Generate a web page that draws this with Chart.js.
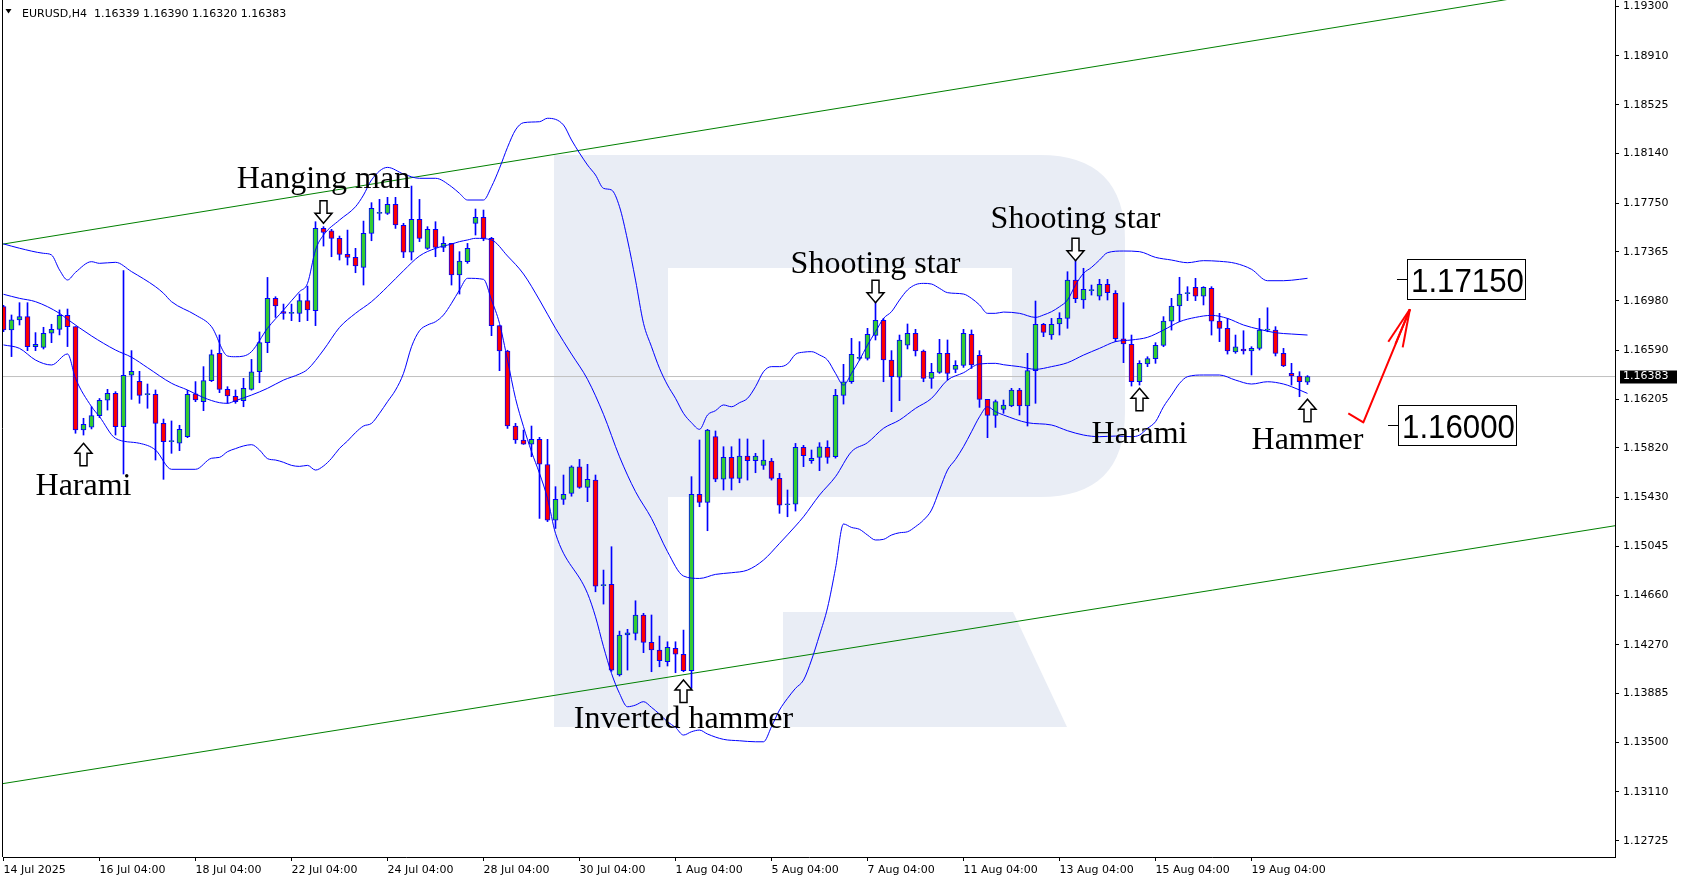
<!DOCTYPE html>
<html>
<head>
<meta charset="utf-8">
<title>EURUSD H4</title>
<script src="https://cdn.jsdelivr.net/npm/chart.js@4.4.1/dist/chart.umd.min.js"></script>
<style>
  html, body { margin: 0; padding: 0; background: #fff; }
  canvas { display: block; }
</style>
</head>
<body>
<canvas id="chart" width="1681" height="882"></canvas>
<script>
// EURUSD H4 bars, 14 Jul 04:00 -> 20 Aug 2025
var opens = [1.16934,1.16750,1.16829,1.16855,1.16619,1.16613,1.16724,1.16755,1.16866,1.16776,
  1.15962,1.15983,1.16075,1.16196,1.16251,1.15988,1.16393,1.16345,1.16240,1.16243,
  1.16014,1.15870,1.15857,1.15909,1.16246,1.16185,1.16351,1.16566,1.16282,1.16227,
  1.16193,1.16282,1.16421,1.16650,1.16999,1.16894,1.16881,1.16881,1.16981,1.16902,
  1.17551,1.17532,1.17472,1.17346,1.17322,1.17243,1.17511,1.17669,1.17669,1.17740,
  1.17574,1.17362,1.17622,1.17393,1.17543,1.17401,1.17432,1.17183,1.17288,1.17590,
  1.17637,1.17472,1.16784,1.16584,1.15993,1.15883,1.15851,1.15888,1.15690,1.15252,
  1.15415,1.15462,1.15672,1.15510,1.15567,1.14735,1.14745,1.14031,1.14346,1.14359,
  1.14504,1.14288,1.14228,1.14136,1.14241,1.14194,1.14065,1.15455,1.15391,1.15909,
  1.15575,1.15746,1.15581,1.15757,1.15720,1.15683,1.15717,1.15581,1.15373,1.15378,
  1.15825,1.15720,1.15746,1.15825,1.15751,1.16235,1.16342,1.16526,1.16526,1.16707,
  1.16826,1.16513,1.16377,1.16631,1.16723,1.16584,1.16369,1.16416,1.16566,1.16440,
  1.16471,1.16715,1.16550,1.16203,1.16077,1.16124,1.16151,1.16277,1.16151,1.16429,
  1.16794,1.16710,1.16797,1.16841,1.17144,1.16986,1.17060,1.17017,1.17109,1.17038,
  1.16681,1.16637,1.16342,1.16482,1.16524,1.16629,1.16820,1.16939,1.17036,1.17086,
  1.17017,1.17078,1.16820,1.16763,1.16576,1.16600,1.16584,1.16605,1.16749,1.16749,
  1.16566,1.16408,1.16387,1.16339];
var highs = [1.16944,1.16868,1.16965,1.16965,1.16729,1.16771,1.16795,1.16908,1.16915,1.16776,
  1.16054,1.16146,1.16210,1.16282,1.16264,1.17218,1.16587,1.16424,1.16324,1.16277,
  1.16048,1.16033,1.15999,1.16274,1.16343,1.16461,1.16592,1.16711,1.16303,1.16277,
  1.16369,1.16518,1.16734,1.17164,1.17012,1.16954,1.16954,1.17033,1.17096,1.17603,
  1.17564,1.17543,1.17490,1.17537,1.17393,1.17608,1.17753,1.17779,1.17795,1.17795,
  1.17590,1.17884,1.17779,1.17564,1.17603,1.17485,1.17432,1.17367,1.17432,1.17703,
  1.17695,1.17480,1.16784,1.16590,1.16014,1.15961,1.15993,1.15904,1.15888,1.15515,
  1.15607,1.15680,1.15730,1.15691,1.15607,1.14858,1.15042,1.14377,1.14391,1.14616,
  1.14517,1.14504,1.14338,1.14293,1.14293,1.14385,1.15594,1.15883,1.15967,1.15954,
  1.15830,1.15830,1.15891,1.15891,1.15778,1.15883,1.15738,1.15620,1.15489,1.15856,
  1.15841,1.15804,1.15862,1.15877,1.16282,1.16479,1.16684,1.16658,1.16763,1.16973,
  1.16841,1.16587,1.16710,1.16797,1.16755,1.16592,1.16487,1.16676,1.16671,1.16508,
  1.16755,1.16750,1.16587,1.16203,1.16198,1.16198,1.16290,1.16290,1.16566,1.16978,
  1.16802,1.16841,1.16886,1.17209,1.17296,1.17236,1.17104,1.17149,1.17149,1.17060,
  1.16965,1.16710,1.16508,1.16539,1.16650,1.16855,1.16999,1.17165,1.17091,1.17157,
  1.17091,1.17091,1.16881,1.16841,1.16710,1.16744,1.16618,1.16841,1.16925,1.16776,
  1.16605,1.16487,1.16421,1.16390];
var lows = [1.16737,1.16540,1.16789,1.16587,1.16587,1.16600,1.16650,1.16711,1.16619,1.15936,
  1.15922,1.15970,1.16059,1.16119,1.15922,1.15615,1.16203,1.16172,1.16133,1.15725,
  1.15573,1.15778,1.15799,1.15901,1.16185,1.16114,1.16343,1.16256,1.16172,1.16172,
  1.16145,1.16276,1.16334,1.16571,1.16849,1.16834,1.16823,1.16815,1.16823,1.16784,
  1.17411,1.17327,1.17301,1.17262,1.17201,1.17104,1.17453,1.17616,1.17660,1.17550,
  1.17320,1.17301,1.17446,1.17385,1.17327,1.17367,1.17104,1.17033,1.17275,1.17498,
  1.17453,1.16705,1.16429,1.15974,1.15856,1.15848,1.15751,1.15265,1.15240,1.15186,
  1.15375,1.15440,1.15502,1.15397,1.14687,1.14590,1.14060,1.14023,1.14070,1.14307,
  1.14207,1.14057,1.14096,1.14102,1.14049,1.14057,1.13926,1.15357,1.15168,1.15554,
  1.15489,1.15489,1.15546,1.15567,1.15625,1.15651,1.15567,1.15305,1.15278,1.15323,
  1.15673,1.15699,1.15641,1.15699,1.15740,1.16166,1.16329,1.16513,1.16513,1.16671,
  1.16342,1.16106,1.16193,1.16600,1.16545,1.16342,1.16290,1.16408,1.16355,1.16413,
  1.16455,1.16447,1.16140,1.15901,1.15982,1.16093,1.16145,1.16080,1.15993,1.16172,
  1.16697,1.16676,1.16710,1.16763,1.16965,1.16920,1.17025,1.16986,1.16986,1.16658,
  1.16492,1.16308,1.16316,1.16461,1.16487,1.16618,1.16749,1.16815,1.16981,1.16981,
  1.16947,1.16710,1.16658,1.16560,1.16566,1.16560,1.16395,1.16592,1.16736,1.16545,
  1.16461,1.16316,1.16224,1.16320];
var closes = [1.16750,1.16829,1.16855,1.16619,1.16637,1.16724,1.16755,1.16866,1.16776,1.15962,
  1.16007,1.16075,1.16196,1.16251,1.15988,1.16393,1.16424,1.16235,1.16240,1.16014,
  1.15870,1.15870,1.15967,1.16243,1.16198,1.16351,1.16556,1.16282,1.16230,1.16185,
  1.16290,1.16421,1.16650,1.16999,1.16939,1.16881,1.16881,1.16981,1.16907,1.17551,
  1.17519,1.17472,1.17346,1.17322,1.17254,1.17511,1.17708,1.17669,1.17740,1.17577,
  1.17362,1.17622,1.17472,1.17543,1.17401,1.17432,1.17183,1.17293,1.17393,1.17637,
  1.17472,1.16784,1.16584,1.15993,1.15883,1.15851,1.15888,1.15693,1.15252,1.15415,
  1.15454,1.15672,1.15509,1.15573,1.14732,1.14735,1.14070,1.14346,1.14364,1.14504,
  1.14288,1.14228,1.14144,1.14249,1.14196,1.14065,1.15455,1.15391,1.15962,1.15575,
  1.15746,1.15581,1.15757,1.15720,1.15757,1.15725,1.15581,1.15370,1.15373,1.15825,
  1.15760,1.15738,1.15830,1.15746,1.16235,1.16342,1.16558,1.16532,1.16715,1.16826,
  1.16513,1.16382,1.16671,1.16723,1.16584,1.16369,1.16416,1.16566,1.16408,1.16471,
  1.16723,1.16474,1.16203,1.16077,1.16185,1.16158,1.16277,1.16151,1.16429,1.16794,
  1.16731,1.16794,1.16841,1.17144,1.16996,1.17070,1.17060,1.17109,1.17044,1.16681,
  1.16639,1.16342,1.16487,1.16524,1.16629,1.16820,1.16939,1.17033,1.17036,1.17017,
  1.17086,1.16820,1.16763,1.16584,1.16618,1.16584,1.16605,1.16749,1.16749,1.16566,
  1.16466,1.16387,1.16342,1.16383];

var xTickLabels = ['14 Jul 2025', '16 Jul 04:00', '18 Jul 04:00', '22 Jul 04:00', '24 Jul 04:00',
  '28 Jul 04:00', '30 Jul 04:00', '1 Aug 04:00', '5 Aug 04:00', '7 Aug 04:00', '11 Aug 04:00',
  '13 Aug 04:00', '15 Aug 04:00', '19 Aug 04:00'];
var xTickStep = 12;
var yTickValues = [1.19300, 1.18910, 1.18525, 1.18140, 1.17750, 1.17365, 1.16980, 1.16590, 1.16205,
  1.15820, 1.15430, 1.15045, 1.14660, 1.14270, 1.13885, 1.13500, 1.13110, 1.12725];
var lastPrice = 1.16383;

// Bollinger bands, [bar, price]
var upperBand = [[0,1.17428],[2,1.17394],[5,1.17354],[6,1.17341],[7,1.17223],[8,1.17144],[9,1.17204],
  [11,1.17288],[12,1.17275],[14,1.17283],[16,1.17210],[19,1.17091],[20,1.17039],[21,1.16973],[24,1.16868],
  [26,1.16776],[28,1.16545],[29,1.16539],[30,1.16544],[31,1.16579],[33,1.16763],[35,1.16907],[37,1.17052],
  [38,1.17117],[39,1.17380],[40,1.17498],[42,1.17616],[44,1.17721],[45,1.17813],[46,1.17932],[48,1.18031],
  [50,1.17979],[52,1.17945],[54,1.17945],[56,1.17879],[57,1.17826],[58,1.17774],[60,1.17774],[61,1.17879],
  [62,1.18024],[63,1.18189],[64,1.18326],[65,1.18383],[67,1.18391],[68,1.18418],[70,1.18365],[71,1.18247],
  [73,1.18050],[74,1.17971],[75,1.17866],[76,1.17853],[77,1.17721],[78,1.17459],[79,1.17143],[80,1.16802],
  [81,1.16618],[82,1.16448],[83,1.16316],[84,1.16211],[85,1.16093],[86,1.16019],[87,1.15967],[88,1.16080],
  [89,1.16114],[90,1.16159],[91,1.16145],[92,1.16177],[93,1.16211],[94,1.16303],[95,1.16421],[96,1.16461],
  [97,1.16461],[98,1.16482],[99,1.16558],[100,1.16575],[101,1.16579],[102,1.16553],[103,1.16513],[104,1.16408],
  [105,1.16316],[106,1.16408],[107,1.16513],[108,1.16631],[109,1.16736],[110,1.16841],[111,1.16894],[112,1.16986],
  [113,1.17065],[114,1.17107],[115,1.17117],[116,1.17112],[117,1.17078],[118,1.17044],[120,1.17033],[121,1.16999],
  [122,1.16947],[123,1.16881],[124,1.16881],[125,1.16891],[127,1.16881],[129,1.16849],[130,1.16868],[131,1.16894],
  [132,1.16933],[133,1.16986],[134,1.17104],[135,1.17196],[136,1.17243],[137,1.17301],[138,1.17359],[140,1.17372],
  [142,1.17367],[144,1.17322],[146,1.17301],[148,1.17280],[150,1.17296],[152,1.17291],[154,1.17275],[156,1.17228],
  [158,1.17138],[160,1.17138],[162,1.17149],[163,1.17157]];
var middleBand = [[0,1.17031],[2,1.16999],[4,1.16973],[7,1.16881],[8,1.16834],[11,1.16703],[14,1.16592],
  [16,1.16535],[18,1.16453],[21,1.16330],[23,1.16277],[25,1.16217],[27,1.16177],[28,1.16172],[29,1.16193],
  [31,1.16237],[33,1.16290],[35,1.16355],[37,1.16403],[38,1.16439],[40,1.16592],[42,1.16770],[44,1.16881],
  [46,1.16973],[48,1.17091],[50,1.17217],[52,1.17333],[54,1.17393],[56,1.17427],[57,1.17446],[58,1.17459],
  [59,1.17472],[61,1.17459],[63,1.17333],[65,1.17191],[67,1.16986],[69,1.16763],[71,1.16560],[73,1.16361],
  [75,1.16085],[77,1.15751],[79,1.15476],[81,1.15265],[83,1.15003],[85,1.14811],[87,1.14792],[89,1.14824],
  [91,1.14837],[93,1.14858],[95,1.14937],[97,1.15068],[99,1.15205],[100,1.15278],[102,1.15449],[104,1.15594],
  [106,1.15791],[108,1.15862],[110,1.15975],[112,1.16040],[114,1.16132],[116,1.16211],[118,1.16355],[120,1.16413],
  [122,1.16482],[124,1.16487],[125,1.16476],[127,1.16461],[129,1.16440],[131,1.16461],[133,1.16492],[135,1.16552],
  [137,1.16605],[139,1.16658],[141,1.16671],[143,1.16692],[145,1.16749],[147,1.16815],[149,1.16849],[151,1.16865],
  [153,1.16841],[155,1.16789],[157,1.16755],[159,1.16728],[161,1.16718],[163,1.16710]];
var lowerBand = [[0,1.16632],[2,1.16605],[4,1.16513],[6,1.16474],[8,1.16561],[9,1.16369],[11,1.16146],
  [12,1.16067],[14,1.15896],[17,1.15857],[19,1.15804],[21,1.15652],[24,1.15652],[26,1.15739],[27,1.15746],
  [28,1.15791],[29,1.15815],[30,1.15836],[31,1.15846],[32,1.15804],[33,1.15736],[34,1.15725],[35,1.15707],
  [36,1.15683],[37,1.15675],[38,1.15683],[39,1.15646],[40,1.15678],[41,1.15738],[42,1.15817],[43,1.15875],
  [44,1.15941],[45,1.15993],[46,1.16014],[47,1.16093],[48,1.16185],[49,1.16276],[50,1.16408],[51,1.16618],
  [52,1.16744],[53,1.16789],[54,1.16815],[55,1.16868],[56,1.16960],[57,1.17065],[58,1.17157],[60,1.17149],
  [61,1.16986],[62,1.16802],[63,1.16513],[64,1.16211],[65,1.15988],[66,1.15791],[67,1.15620],[68,1.15423],
  [69,1.15147],[73,1.14674],[74,1.14490],[75,1.14254],[76,1.14044],[77,1.13886],[78,1.13781],[79,1.13794],
  [80,1.13821],[81,1.13776],[82,1.13723],[83,1.13663],[84,1.13618],[85,1.13558],[86,1.13584],[87,1.13597],
  [88,1.13566],[90,1.13524],[92,1.13513],[94,1.13505],[95,1.13505],[96,1.13624],[97,1.13755],[98,1.13847],
  [99,1.13926],[100,1.13991],[101,1.14149],[102,1.14346],[103,1.14560],[104,1.14872],[105,1.15221],[106,1.15194],
  [107,1.15179],[108,1.15134],[109,1.15095],[110,1.15100],[111,1.15134],[112,1.15152],[113,1.15160],[114,1.15200],
  [115,1.15252],[116,1.15331],[117,1.15489],[118,1.15646],[119,1.15730],[120,1.15830],[121,1.15948],[122,1.16066],
  [123,1.16145],[124,1.16106],[125,1.16080],[128,1.16019],[131,1.16001],[133,1.15956],[135,1.15922],[137,1.15909],
  [139,1.15914],[141,1.15909],[142,1.15922],[143,1.15975],[144,1.16027],[145,1.16145],[146,1.16237],[147,1.16329],
  [148,1.16382],[150,1.16395],[152,1.16395],[154,1.16355],[156,1.16324],[158,1.16342],[160,1.16324],[161,1.16303],
  [163,1.16250]];

// channel trend lines, [bar, price]
var channelTop = [[-1, 1.17417], [190, 1.19375]];
var channelBottom = [[-1, 1.13166], [202, 1.15213]];

var targetLevels = [1.17150, 1.16000];
var targetBars = [174.15, 173.06];

var patternNotes = [
  { text: 'Harami', bar: 10, price: 1.15857, dir: 'up', textDy: 52 },
  { text: 'Hanging man', bar: 40, price: 1.17590, dir: 'down', textDy: -35 },
  { text: 'Inverted hammer', bar: 85, price: 1.13992, dir: 'up', textDy: 48 },
  { text: 'Shooting star', bar: 109, price: 1.16965, dir: 'down', textDy: -30 },
  { text: 'Shooting star', bar: 134, price: 1.17296, dir: 'down', textDy: -33 },
  { text: 'Harami', bar: 142, price: 1.16290, dir: 'up', textDy: 55 },
  { text: 'Hammer', bar: 163, price: 1.16204, dir: 'up', textDy: 50 }
];
// red hand-drawn arrow, [bar, price]
var redArrow = [[168.1, 1.16093], [169.98, 1.16022], [175.8, 1.16913]];
var redArrowHead = [[173.1, 1.16657], [174.9, 1.16613], [174.0, 1.16640]];

var bullColor = '#32cd32';
var bearColor = '#ff0000';
var candleLine = '#0000ff';

function toPoints(pairs) {
  return pairs.map(function (p) { return { x: p[0], y: p[1] }; });
}

var bodyData = opens.map(function (o, i) {
  return { x: i, y: [Math.min(o, closes[i]), Math.max(o, closes[i])] };
});
var bodyColors = opens.map(function (o, i) { return closes[i] >= o ? bullColor : bearColor; });
var wickData = opens.map(function (o, i) { return { x: i, y: [lows[i], highs[i]] }; });

function bandSet(pairs) {
  return {
    type: 'line', data: toPoints(pairs), borderColor: '#0000ff', borderWidth: 1,
    pointRadius: 0, cubicInterpolationMode: 'monotone', fill: false, order: 1
  };
}

var watermark = {
  id: 'watermark',
  beforeDraw: function (chart) {
    var c = chart.ctx;
    c.save();
    c.fillStyle = '#ffffff';
    c.fillRect(0, 0, chart.width, chart.height);
    c.fillStyle = '#e9edf5';
    c.beginPath();
    c.moveTo(554, 155);
    c.lineTo(1040, 155);
    c.quadraticCurveTo(1125, 155, 1125, 240);
    c.lineTo(1125, 412);
    c.quadraticCurveTo(1125, 497, 1040, 497);
    c.lineTo(668, 497);
    c.lineTo(668, 727);
    c.lineTo(554, 727);
    c.closePath();
    c.fill();
    c.beginPath();
    c.moveTo(783, 612);
    c.lineTo(1013, 612);
    c.lineTo(1067, 727);
    c.lineTo(783, 727);
    c.closePath();
    c.fill();
    c.fillStyle = '#ffffff';
    c.fillRect(668, 268, 344, 112);
    c.restore();
  }
};

function drawArrow(c, x, tipY, dir) {
  var s = dir === 'up' ? 1 : -1;
  c.beginPath();
  c.moveTo(x, tipY);
  c.lineTo(x + 8.5, tipY + s * 10);
  c.lineTo(x + 3.5, tipY + s * 10);
  c.lineTo(x + 3.5, tipY + s * 22.5);
  c.lineTo(x - 3.5, tipY + s * 22.5);
  c.lineTo(x - 3.5, tipY + s * 10);
  c.lineTo(x - 8.5, tipY + s * 10);
  c.closePath();
  c.fillStyle = '#ffffff';
  c.fill();
  c.lineWidth = 1.5;
  c.strokeStyle = '#000000';
  c.stroke();
}

var overlay = {
  id: 'overlay',
  afterDraw: function (chart) {
    var c = chart.ctx;
    var xs = chart.scales.x, ys = chart.scales.y;
    var area = chart.chartArea;
    c.save();

    // left frame
    c.strokeStyle = '#000';
    c.lineWidth = 1;
    c.beginPath();
    c.moveTo(2.5, 0);
    c.lineTo(2.5, area.bottom);
    c.stroke();

    // candle pattern notes
    c.font = '32px "Liberation Serif"';
    c.textAlign = 'center';
    c.textBaseline = 'alphabetic';
    patternNotes.forEach(function (n) {
      var x = xs.getPixelForValue(n.bar);
      var y = ys.getPixelForValue(n.price);
      drawArrow(c, x, y, n.dir);
      c.fillStyle = '#000';
      c.fillText(n.text, x, y + n.textDy);
    });

    // target boxes
    c.font = '33px "Liberation Sans"';
    c.textAlign = 'left';
    targetLevels.forEach(function (lvl, k) {
      var x0 = Math.round(xs.getPixelForValue(targetBars[k]));
      var y = Math.round(ys.getPixelForValue(lvl)) + 0.5;
      c.strokeStyle = '#000';
      c.lineWidth = 1;
      c.beginPath();
      c.moveTo(x0, y);
      c.lineTo(x0 + 10, y);
      c.stroke();
      c.fillStyle = '#fff';
      c.fillRect(x0 + 10.5, y - 20, 118, 40);
      c.strokeRect(x0 + 10.5, y - 20, 118, 40);
      c.fillStyle = '#000';
      c.fillText(lvl.toFixed(5), x0 + 14, y + 12, 113);
    });

    // red arrow
    c.strokeStyle = '#ff0000';
    c.lineWidth = 2;
    c.lineJoin = 'round';
    c.beginPath();
    redArrow.forEach(function (p, k) {
      var px = xs.getPixelForValue(p[0]), py = ys.getPixelForValue(p[1]);
      if (k === 0) c.moveTo(px, py); else c.lineTo(px, py);
    });
    c.stroke();
    var tip = redArrow[redArrow.length - 1];
    var tx = xs.getPixelForValue(tip[0]), ty = ys.getPixelForValue(tip[1]);
    redArrowHead.forEach(function (p) {
      c.beginPath();
      c.moveTo(tx, ty);
      c.lineTo(xs.getPixelForValue(p[0]), ys.getPixelForValue(p[1]));
      c.stroke();
    });

    // header
    c.fillStyle = '#000';
    c.beginPath();
    c.moveTo(5.5, 9);
    c.lineTo(11.5, 9);
    c.lineTo(8.5, 13.5);
    c.closePath();
    c.fill();
    var n = opens.length - 1;
    c.font = '11px "DejaVu Sans"';
    c.fillText('EURUSD,H4  ' + [opens[n], highs[n], lows[n], closes[n]].map(function (v) {
      return v.toFixed(5);
    }).join(' '), 22, 17);

    // last price tag on the axis
    var py = ys.getPixelForValue(lastPrice);
    c.fillStyle = '#000';
    c.fillRect(area.right + 5, Math.round(py) - 6.5, 57, 13);
    c.fillStyle = '#fff';
    c.textBaseline = 'middle';
    c.fillText(lastPrice.toFixed(5), area.right + 8, py);
    c.restore();
  }
};

var axisFont = { family: 'DejaVu Sans', size: 11 };

new Chart(document.getElementById('chart'), {
  type: 'bar',
  data: {
    datasets: [
      {
        type: 'line', data: [{ x: -1, y: lastPrice }, { x: 202, y: lastPrice }],
        borderColor: '#c0c0c0', borderWidth: 1, pointRadius: 0, order: 9
      },
      {
        type: 'line', data: toPoints(channelTop), borderColor: '#008000', borderWidth: 1,
        pointRadius: 0, order: 8
      },
      {
        type: 'line', data: toPoints(channelBottom), borderColor: '#008000', borderWidth: 1,
        pointRadius: 0, order: 8
      },
      {
        data: wickData, backgroundColor: candleLine, borderWidth: 0,
        barThickness: 1, grouped: false, order: 4
      },
      {
        data: bodyData, backgroundColor: bodyColors, borderColor: candleLine, borderWidth: 1,
        borderSkipped: false, barThickness: 5, minBarLength: 1, grouped: false, order: 3
      },
      bandSet(upperBand),
      bandSet(middleBand),
      bandSet(lowerBand)
    ]
  },
  options: {
    responsive: false,
    animation: false,
    devicePixelRatio: 1,
    layout: { padding: { left: 3, top: 0, right: 0, bottom: 0 } },
    plugins: { legend: { display: false }, tooltip: { enabled: false } },
    scales: {
      x: {
        type: 'linear',
        min: -0.0625,
        max: 201.4375,
        offset: false,
        afterBuildTicks: function (scale) {
          scale.ticks = xTickLabels.map(function (l, k) { return { value: k * xTickStep }; });
        },
        afterFit: function (scale) {
          scale.height = 25;
          scale.paddingLeft = 0;
          scale.paddingRight = 0;
        },
        ticks: {
          autoSkip: false, maxRotation: 0, minRotation: 0, align: 'start', padding: 3,
          color: '#000', font: axisFont,
          callback: function (v) { return xTickLabels[Math.round(v / xTickStep)]; }
        },
        grid: { display: true, offset: false, drawOnChartArea: false, drawTicks: true, tickLength: 4, color: '#000' },
        border: { display: true, color: '#000' }
      },
      y: {
        position: 'right',
        min: 1.12597,
        max: 1.1935,
        afterBuildTicks: function (scale) {
          scale.ticks = yTickValues.map(function (v) { return { value: v }; });
        },
        afterFit: function (scale) {
          scale.width = 66;
          scale.paddingTop = 0;
          scale.paddingBottom = 0;
        },
        ticks: {
          padding: 4, color: '#000', font: axisFont,
          callback: function (v) { return Number(v).toFixed(5); }
        },
        grid: { display: true, drawOnChartArea: false, drawTicks: true, tickLength: 4, color: '#000' },
        border: { display: true, color: '#000' }
      }
    }
  },
  plugins: [watermark, overlay]
});
</script>
</body>
</html>
